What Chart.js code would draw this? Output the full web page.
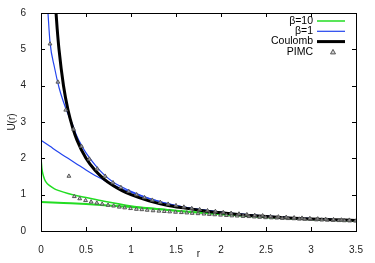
<!DOCTYPE html>
<html>
<head>
<meta charset="utf-8">
<script src="https://cdn.jsdelivr.net/npm/chart.js@4/dist/chart.umd.min.js"></script>
<style>
  body { margin: 0; background: #fff; }
  #wrap { width: 375px; height: 263px; }
</style>
</head>
<body>
<div id="wrap"><canvas id="myChart" width="375" height="263"></canvas></div>
<script>
// β=10 の2本
var rGreenA = [0, 0.005, 0.01, 0.02, 0.04, 0.06, 0.1, 0.15, 0.2, 0.3, 0.4, 0.5, 0.7, 1.0, 1.2, 1.5, 2, 2.5, 3, 3.5];
var uGreenA = [2.0, 1.85, 1.72, 1.58, 1.42, 1.33, 1.24, 1.16, 1.11, 1.03, 0.97, 0.92, 0.82, 0.69, 0.63, 0.56, 0.46, 0.38, 0.32, 0.28];
var rGreenB = [0, 0.25, 0.5, 0.75, 1.0, 1.25, 1.5, 2, 2.5, 3, 3.5];
var uGreenB = [0.8, 0.77, 0.74, 0.70, 0.66, 0.61, 0.56, 0.46, 0.38, 0.32, 0.28];
// β=1 の2本
var rBlueA = [0.075, 0.1, 0.15, 0.2, 0.25, 0.3, 0.35, 0.4, 0.45, 0.5, 0.6, 0.7, 0.8, 0.9, 1.0, 1.2, 1.5, 2, 2.5, 3, 3.5];
var uBlueA = [6.1, 5.2, 4.5, 3.95, 3.55, 3.22, 2.93, 2.6, 2.36, 2.15, 1.82, 1.55, 1.35, 1.21, 1.09, 0.9, 0.7, 0.52, 0.41, 0.34, 0.29];
var rBlueB = [0, 0.1, 0.2, 0.3, 0.4, 0.5, 0.6, 0.7, 0.8, 0.9, 1.0, 1.2, 1.5, 2, 2.5, 3, 3.5];
var uBlueB = [2.5, 2.33, 2.16, 2.0, 1.84, 1.68, 1.53, 1.40, 1.27, 1.16, 1.07, 0.89, 0.7, 0.51, 0.41, 0.34, 0.29];
// Coulomb
var rCoul = [0.16, 0.18, 0.2, 0.25, 0.3, 0.35, 0.4, 0.5, 0.6, 0.7, 0.8, 0.9, 1, 1.2, 1.4, 1.6, 1.8, 2, 2.25, 2.5, 2.75, 3, 3.25, 3.5];
var uCoul = [6.25, 5.56, 5, 4, 3.33, 2.86, 2.5, 2, 1.67, 1.43, 1.25, 1.11, 1, 0.83, 0.71, 0.63, 0.56, 0.5, 0.44, 0.4, 0.36, 0.33, 0.31, 0.29];
// PIMC (上側)
var rPimcA = [0.1, 0.1875, 0.275, 0.3625, 0.45, 0.5375, 0.625, 0.7125, 0.8, 0.8875, 0.975, 1.0625, 1.15, 1.2375, 1.325, 1.4125, 1.5, 1.5875, 1.675, 1.7625, 1.85, 1.9375, 2.025, 2.1125, 2.2, 2.2875, 2.375, 2.4625, 2.55, 2.6375, 2.725, 2.8125, 2.9, 2.9875, 3.075, 3.1625, 3.25, 3.3375, 3.425];
var uPimcA = [5.15, 4.1, 3.33, 2.8, 2.33, 1.98, 1.71, 1.51, 1.33, 1.2, 1.09, 1.0, 0.92, 0.85, 0.79, 0.74, 0.70, 0.66, 0.62, 0.59, 0.56, 0.54, 0.51, 0.49, 0.47, 0.45, 0.43, 0.42, 0.40, 0.39, 0.38, 0.365, 0.355, 0.345, 0.335, 0.325, 0.315, 0.305, 0.30];
// PIMC (下側)
var rPimcB = [0.31, 0.37, 0.43, 0.495, 0.557, 0.62, 0.68, 0.745, 0.807, 0.87, 0.93, 0.995, 1.06, 1.12, 1.18, 1.245, 1.31, 1.37, 1.43, 1.495, 1.56, 1.62, 1.68, 1.745, 1.81, 1.87, 1.93, 1.995, 2.06, 2.12, 2.18, 2.245, 2.31, 2.37, 2.43, 2.495, 2.56, 2.62, 2.68, 2.745, 2.81, 2.87, 2.93, 2.995, 3.06, 3.12, 3.18, 3.245, 3.31, 3.37, 3.43, 3.495];
var uPimcB = [1.51, 0.95, 0.89, 0.84, 0.80, 0.77, 0.74, 0.71, 0.69, 0.66, 0.64, 0.62, 0.60, 0.59, 0.575, 0.56, 0.55, 0.54, 0.53, 0.52, 0.51, 0.50, 0.49, 0.48, 0.47, 0.46, 0.45, 0.44, 0.43, 0.42, 0.415, 0.405, 0.40, 0.39, 0.38, 0.37, 0.365, 0.36, 0.35, 0.345, 0.34, 0.33, 0.325, 0.32, 0.31, 0.305, 0.30, 0.295, 0.29, 0.285, 0.28, 0.275];

var xTicks = [0, 0.5, 1, 1.5, 2, 2.5, 3, 3.5];
var yTicks = [0, 1, 2, 3, 4, 5, 6];

var green = '#22dd22';
var blue = '#2244ee';
var fontFam = '"Liberation Sans", Arial, sans-serif';

function pts(rs, us) {
  return rs.map(function(r, i) { return { x: r, y: us[i] }; });
}

function lineSet(label, rs, us, color, w, order) {
  return {
    label: label, data: pts(rs, us), borderColor: color, borderWidth: w,
    pointRadius: 0, cubicInterpolationMode: 'monotone', fill: false, order: order
  };
}

function pimcSet(label, rs, us) {
  return {
    label: label, data: pts(rs, us), showLine: false, order: 1,
    pointStyle: 'triangle', pointRadius: 2.2, borderWidth: 1,
    borderColor: '#555', backgroundColor: 'rgba(190,190,190,0.7)'
  };
}

// 枠・内向きの目盛り・凡例を描く
var framePlugin = {
  id: 'frame',
  afterDatasetsDraw: function(chart) {
    var c = chart.ctx, a = chart.chartArea;
    var xs = chart.scales.x, ys = chart.scales.y;
    c.save();
    c.strokeStyle = '#000';
    c.lineWidth = 1;
    c.beginPath();
    xTicks.forEach(function(v) {
      var px = Math.round(xs.getPixelForValue(v)) + 0.5;
      c.moveTo(px, a.bottom); c.lineTo(px, a.bottom - 4);
      c.moveTo(px, a.top); c.lineTo(px, a.top + 4);
    });
    yTicks.forEach(function(v) {
      var py = Math.round(ys.getPixelForValue(v)) + 0.5;
      c.moveTo(a.left, py); c.lineTo(a.left + 4, py);
      c.moveTo(a.right, py); c.lineTo(a.right - 4, py);
    });
    c.stroke();
    c.strokeRect(Math.round(a.left) + 0.5, Math.round(a.top) + 0.5, Math.round(a.right - a.left), Math.round(a.bottom - a.top));

    // 凡例
    var items = [
      { label: 'β=10', color: green, w: 1.5 },
      { label: 'β=1', color: blue, w: 1.2 },
      { label: 'Coulomb', color: '#000', w: 3 },
      { label: 'PIMC', marker: true }
    ];
    c.font = '10.5px ' + fontFam;
    c.textAlign = 'right';
    c.textBaseline = 'middle';
    items.forEach(function(it, i) {
      var y = 21 + i * 10.3;
      c.fillStyle = '#000';
      c.fillText(it.label, 313, y);
      if (it.marker) {
        c.fillStyle = 'rgba(190,190,190,0.7)';
        c.strokeStyle = '#555';
        c.lineWidth = 1;
        c.beginPath();
        c.moveTo(333, y - 2.5); c.lineTo(335.5, y + 2); c.lineTo(330.5, y + 2); c.closePath();
        c.fill(); c.stroke();
      } else {
        c.strokeStyle = it.color;
        c.lineWidth = it.w;
        c.beginPath();
        c.moveTo(317, y); c.lineTo(345, y);
        c.stroke();
      }
    });
    c.restore();
  }
};

var ctx = document.getElementById('myChart').getContext('2d');
var myChart = new Chart(ctx, {
  type: 'line',
  data: {
    datasets: [
      lineSet('β=10', rGreenA, uGreenA, green, 1.5, 4),
      lineSet('β=10 b', rGreenB, uGreenB, green, 2, 4),
      lineSet('β=1', rBlueA, uBlueA, blue, 1.2, 3),
      lineSet('β=1 b', rBlueB, uBlueB, blue, 1.2, 3),
      lineSet('Coulomb', rCoul, uCoul, '#000', 3, 2),
      pimcSet('PIMC', rPimcA, uPimcA),
      pimcSet('PIMC b', rPimcB, uPimcB)
    ]
  },
  options: {
    responsive: false,
    animation: false,
    layout: { padding: { top: 11, right: 19, left: 0, bottom: 0 } },
    plugins: { legend: { display: false }, tooltip: { enabled: false } },
    scales: {
      x: {
        type: 'linear', min: 0, max: 3.5,
        afterFit: function(s) { s.height = 32; },
        afterBuildTicks: function(s) { s.ticks = xTicks.map(function(v) { return { value: v }; }); },
        grid: { display: false },
        border: { display: false },
        ticks: {
          padding: 5, color: '#222', maxRotation: 0,
          font: { size: 10, family: fontFam },
          callback: function(v) { return String(v); }
        },
        title: { display: true, text: 'r', color: '#222', padding: { top: 0, bottom: 3 }, font: { size: 10, family: fontFam } }
      },
      y: {
        type: 'linear', min: 0, max: 6,
        afterFit: function(s) { s.width = 41; },
        afterBuildTicks: function(s) { s.ticks = yTicks.map(function(v) { return { value: v }; }); },
        grid: { display: false },
        border: { display: false },
        ticks: {
          padding: 7, color: '#222',
          font: { size: 10, family: fontFam },
          callback: function(v) { return String(v); }
        },
        title: { display: true, text: 'U(r)', color: '#222', padding: { top: 6, bottom: 0 }, font: { size: 10, family: fontFam } }
      }
    }
  },
  plugins: [framePlugin]
});
</script>
</body>
</html>
